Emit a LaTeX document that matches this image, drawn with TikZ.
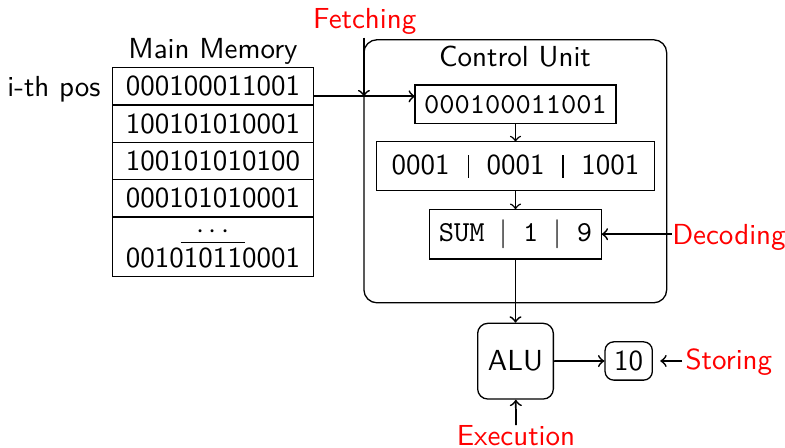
\documentclass[tikz,border=0pt]{standalone}
\usepackage{fontspec}
\usetikzlibrary{positioning}
\newcommand{\vbar}{\hspace{6.2pt}\rule[-1pt]{0.6pt}{7.9pt}\hspace{5.9pt}}
\begin{document}
\begin{tikzpicture}[x=0.3448pt,y=-0.3448pt, font=\sffamily,
  cell/.style={draw, line width=0.45pt, minimum width=69.07pt, minimum height=12.86pt, inner sep=0pt, outer sep=0pt},
  ibox/.style={draw, line width=0.45pt, inner sep=0pt, outer sep=0pt},
  lbl/.style={text=red, inner sep=1pt},
  arr/.style={->, line width=0.6pt},
  sarr/.style={->, line width=0.5pt}]
\useasboundingbox (0,0) rectangle (785,448);
% memory
\node[cell] (m1) at (213,86.35) {000100011001};
\node[cell, below=0pt of m1] (m2) {100101010001};
\node[cell, below=0pt of m2] (m3) {100101010100};
\node[cell, below=0pt of m3] (m4) {000101010001};
\node[cell, below=0pt of m4, minimum height=20.6pt, align=center, font=\sffamily\linespread{0.95}\selectfont] (m5)
  {$\underline{\hbox to 22.3pt{\hss$\cdots$\hss}}$\\[-1.5pt]001010110001};
\node[anchor=base, inner sep=1pt] (ith) at (54,96.7) {i-th pos};
\node[anchor=base, inner sep=1pt] (mmt) at (213,58.3) {Main Memory};
% control unit
\node[draw, line width=0.45pt, rounded corners=4.5pt, minimum width=104.4pt, minimum height=90.7pt, inner sep=0pt, outer sep=0pt] (cu) at (515.3,171.3) {};
\node[anchor=base, inner sep=1pt] (cut) at (515,66.7) {Control Unit};
\node[ibox, minimum width=69.3pt, minimum height=13.2pt, font=\ttfamily] (b1) at (515.5,104.2) {000100011001};
\node[ibox, minimum width=95.7pt, minimum height=16.9pt] (b2) at (515.5,166.2) {0001\vbar0001\vbar1001};
\node[ibox, minimum width=59.4pt, minimum height=17.1pt, font=\ttfamily] (b3) at (515.5,234.2) {SUM $|$ 1 $|$ 9};
% ALU and result
\node[draw, line width=0.45pt, rounded corners=3.5pt, minimum width=26.1pt, minimum height=26.1pt, inner sep=0pt] (alu) at (515.5,361.2) {ALU};
\node[draw, line width=0.45pt, rounded corners=3pt, minimum width=16.3pt, minimum height=13.2pt, inner sep=0pt] (ten) at (628.7,361) {10};
% red labels
\node[lbl, anchor=base] (fetch) at (364.7,28.3) {Fetching};
\node[lbl, anchor=base west, inner sep=0pt] (dec) at (671.7,245) {Decoding};
\node[lbl, anchor=base west, inner sep=0pt] (stor) at (685,370) {Storing};
\node[lbl, anchor=base] (exe) at (516,445.7) {Execution};
% connectors
\coordinate (fx) at ([yshift=-3.45pt]m1.east -| cu.west);
\draw[arr] ([yshift=-3.45pt]m1.east) -- ([yshift=-3.45pt]m1.east -| b1.west);
\draw[arr] (fetch.south -| cu.west) -- (fx);
\draw[sarr] (b1) -- (b2);
\draw[sarr] (b2) -- (b3);
\draw[arr] (b3) -- (alu);
\draw[arr] (dec.west |- b3.east) -- (b3);
\draw[arr] (alu) -- (ten);
\draw[arr] ([xshift=-1pt]stor.west |- ten.east) -- ([xshift=2.5pt]ten.east);
\draw[arr] ([yshift=-1pt]exe.north) -- (alu);
\end{tikzpicture}
\end{document}
